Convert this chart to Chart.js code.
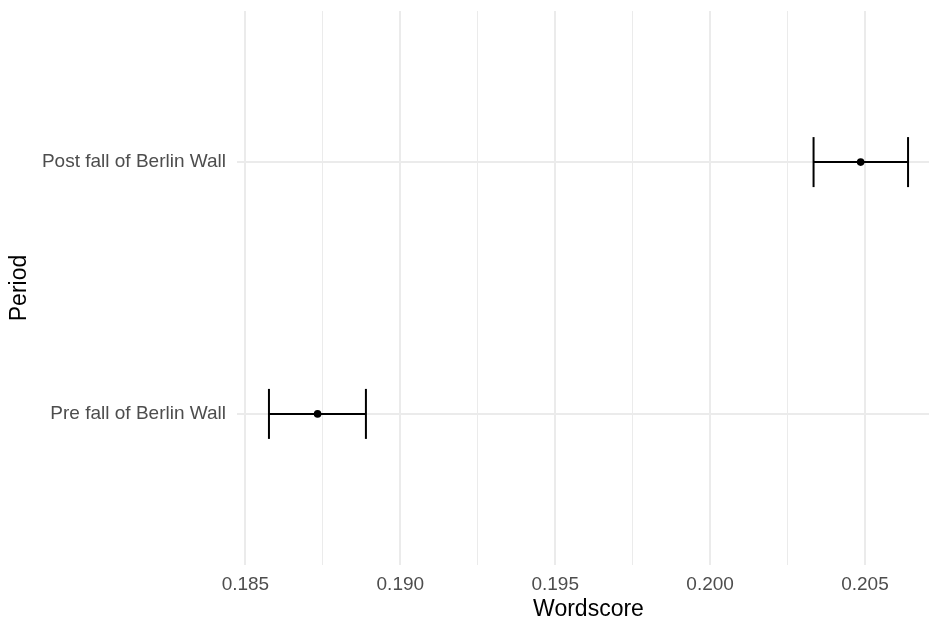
<!DOCTYPE html>
<html>
<head>
<meta charset="utf-8">
<script src="https://cdn.jsdelivr.net/npm/chart.js@4/dist/chart.umd.min.js"></script>
<style>
  html, body { margin: 0; padding: 0; background: #fff; overflow: hidden; }
  #wrap { width: 940px; height: 621px; }
</style>
</head>
<body>
<div id="wrap"><canvas id="chart" width="940" height="621"></canvas></div>
<script>
// Wordscore estimates with interval bounds, one row per period
const periods = ['Pre fall of Berlin Wall', 'Post fall of Berlin Wall'];
const estimates = [0.18733, 0.20486];
const lower = [0.18576, 0.20334];
const upper = [0.18889, 0.20639];
const xTicks = [0.185, 0.190, 0.195, 0.200, 0.205];

const FONT = '"Liberation Sans", Arial, Helvetica, sans-serif';
const GRID = '#ebebeb';

// minor breaks halfway between the labelled ones
const minorTicks = xTicks.slice(1).map((v, i) => (v + xTicks[i]) / 2);

// 5% padding on each side of the data range
const lo = Math.min(...lower), hi = Math.max(...upper);
const pad = (hi - lo) * 0.05;

const errorBars = periods.map((p, i) => ({
  type: 'scatter',
  showLine: true,
  data: [{ x: lower[i], y: i + 1 }, { x: upper[i], y: i + 1 }],
  borderColor: '#000',
  borderWidth: 2,
  pointStyle: 'line',
  rotation: 90,
  pointRadius: 25,
  pointBorderWidth: 2,
  pointBorderColor: '#000',
  clip: false
}));

const means = {
  type: 'scatter',
  data: estimates.map((v, i) => ({ x: v, y: i + 1 })),
  pointStyle: 'circle',
  pointRadius: 3.8,
  pointBackgroundColor: '#000',
  pointBorderWidth: 0,
  clip: false
};

new Chart(document.getElementById('chart'), {
  type: 'scatter',
  data: { datasets: [means, ...errorBars] },
  options: {
    responsive: false,
    animation: false,
    layout: { autoPadding: false, padding: { top: 11, left: 0, right: 0, bottom: 0 } },
    plugins: { legend: { display: false }, tooltip: { enabled: false } },
    scales: {
      x: {
        type: 'linear',
        min: lo - pad,
        max: hi + pad,
        afterBuildTicks: (scale) => {
          const t = xTicks.map(v => ({ value: v, major: true }))
            .concat(minorTicks.map(v => ({ value: v, major: false })));
          scale.ticks = t.sort((a, b) => a.value - b.value);
        },
        afterFit: (scale) => { scale.height = 56; },
        ticks: {
          autoSkip: false,
          maxRotation: 0,
          padding: 8,
          color: '#4d4d4d',
          font: { family: FONT, size: 19 },
          callback: function (value, index, ticks) {
            return ticks[index].major ? value.toFixed(3) : '';
          }
        },
        grid: {
          color: GRID,
          lineWidth: (ctx) => (ctx.tick && ctx.tick.major ? 2 : 1),
          drawTicks: false
        },
        border: { display: false },
        title: {
          display: true,
          text: 'Wordscore',
          color: '#000',
          font: { family: FONT, size: 23, lineHeight: 1 },
          padding: { top: 0, bottom: 0 }
        }
      },
      y: {
        type: 'linear',
        min: 0.4,
        max: 2.6,
        afterBuildTicks: (scale) => {
          scale.ticks = periods.map((p, i) => ({ value: i + 1 }));
        },
        afterFit: (scale) => {
          scale.width = 237;
          // labels sit well inside the panel, no extra room needed above/below
          scale.paddingTop = 0;
          scale.paddingBottom = 0;
        },
        ticks: {
          padding: 11,
          color: '#4d4d4d',
          font: { family: FONT, size: 19 },
          callback: (value) => periods[value - 1]
        },
        grid: { color: GRID, lineWidth: 2, drawTicks: false },
        border: { display: false },
        title: {
          display: true,
          text: 'Period',
          color: '#000',
          font: { family: FONT, size: 23, lineHeight: 1 },
          padding: { top: 8, bottom: 0 }
        }
      }
    }
  }
});
</script>
</body>
</html>
